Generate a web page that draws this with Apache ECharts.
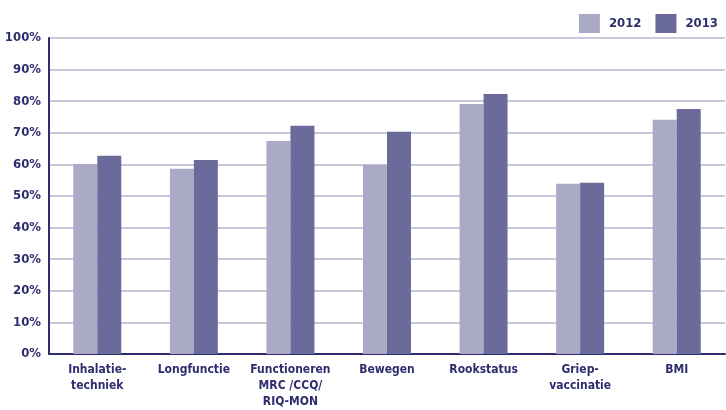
<!DOCTYPE html>
<html>
<head>
<meta charset="utf-8">
<script src="https://cdn.jsdelivr.net/npm/echarts@6/dist/echarts.min.js"></script>
<style>
  html, body { margin: 0; padding: 0; background: #fff; }
  #main { width: 726px; height: 410px; }
</style>
</head>
<body>
<div id="main"></div>
<script>
// categorieen en waarden (percentages)
var categories = ['Inhalatie-\ntechniek', 'Longfunctie', 'Functioneren\nMRC /CCQ/\nRIQ-MON', 'Bewegen', 'Rookstatus', 'Griep-\nvaccinatie', 'BMI']
var values2012 = [60.1, 58.6, 67.4, 59.9, 79.1, 53.9, 74.1]
var values2013 = [62.7, 61.4, 72.2, 70.3, 82.3, 54.2, 77.5]
var yTicks = [0, 10, 20, 30, 40, 50, 60, 70, 80, 90, 100]

var navy = '#2d2d6e'
var font = '"DejaVu Sans Condensed", "Liberation Sans", sans-serif'

var myChart = echarts.init(document.querySelector('#main'))

var option = {
    animation: false,
    textStyle: { fontFamily: font },
    legend: {
        data: ['2012', '2013'],
        right: 3,
        top: 9,
        itemWidth: 21,
        itemHeight: 19,
        itemGap: 14,
        icon: 'rect',
        textStyle: { color: navy, fontWeight: 'bold', fontSize: 13, fontFamily: font, padding: [0, 0, 0, 4] }
    },
    grid: {
        left: 49,
        right: 1,
        top: 38,
        bottom: 56
    },
    xAxis: {
        type: 'category',
        data: categories,
        axisLine: { lineStyle: { color: navy, width: 2 } },
        axisTick: { show: false },
        axisLabel: {
            color: navy,
            fontWeight: 'bold',
            fontFamily: font,
            fontSize: 12,
            lineHeight: 16,
            margin: 8,
            interval: 0
        }
    },
    yAxis: {
        type: 'value',
        min: yTicks[0],
        max: yTicks[yTicks.length - 1],
        interval: 10,
        axisLine: { show: true, lineStyle: { color: navy, width: 2 } },
        axisTick: { show: false },
        splitLine: { lineStyle: { color: '#c9c9dd', width: 2 } },
        axisLabel: {
            color: navy,
            fontWeight: 'bold',
            fontFamily: font,
            fontSize: 13,
            margin: 8,
            formatter: '{value}%'
        }
    },
    series: [
        {
            name: '2012',
            type: 'bar',
            data: values2012,
            barWidth: 24,
            barGap: '0%',
            itemStyle: { color: '#aaaac6' }
        },
        {
            name: '2013',
            type: 'bar',
            data: values2013,
            barWidth: 24,
            barGap: '0%',
            itemStyle: { color: '#6a6a9b' }
        }
    ]
}

myChart.setOption(option)
</script>
</body>
</html>
